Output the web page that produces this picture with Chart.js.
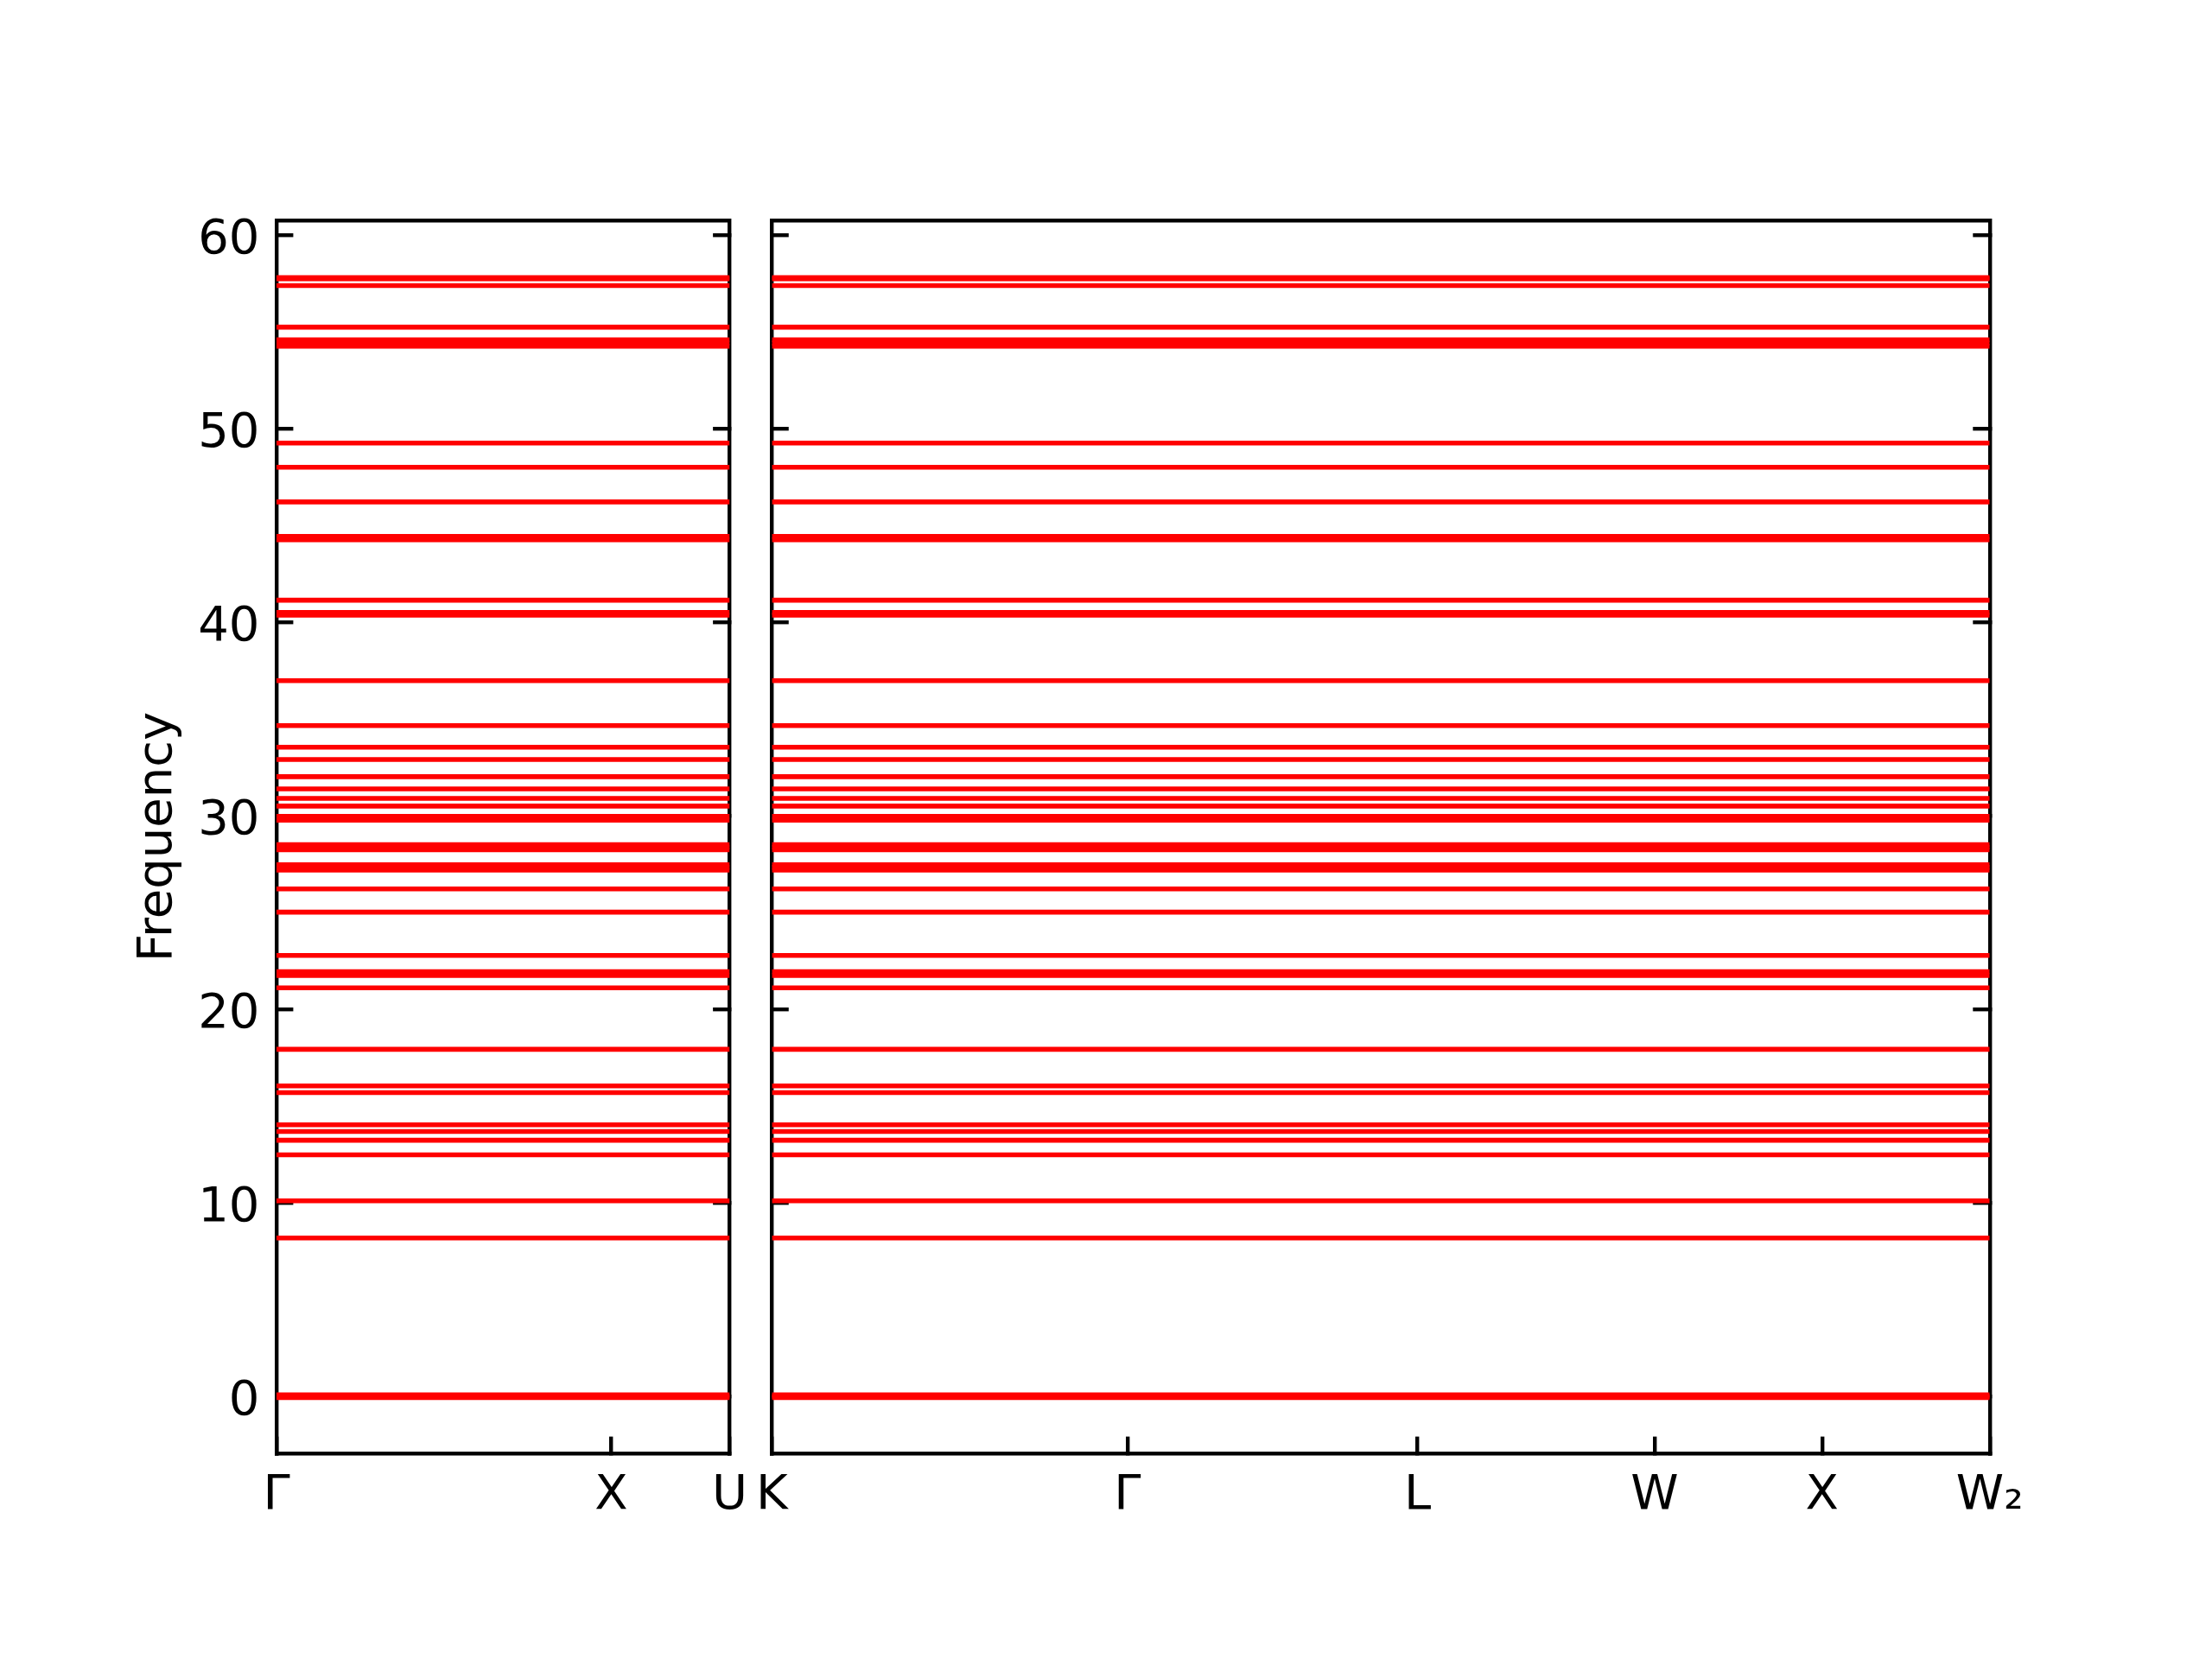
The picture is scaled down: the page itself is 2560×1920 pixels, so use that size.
<!DOCTYPE html>
<html>
<head>
<meta charset="utf-8">
<script src="https://cdn.jsdelivr.net/npm/chart.js@4/dist/chart.umd.min.js"></script>
<style>
  body { margin: 0; background: #fff; }
  #wrap { position: relative; width: 2560px; height: 1920px; background: #fff; }
  canvas { position: absolute; top: 0; }
</style>
</head>
<body>
<div id="wrap">
  <canvas id="kiri" width="900" height="1920" style="left:0px"></canvas>
  <canvas id="kanan" width="1720" height="1920" style="left:840px"></canvas>
</div>
<script>
// frekuensi tiap pita (datar di sepanjang jalur)
const frekuensi = [57.83, 57.77, 57.42, 55.27, 54.62, 54.45, 54.28, 49.28, 48.03, 46.24,
    44.46, 44.28, 41.16, 40.53, 40.38, 37.00, 34.68, 33.56, 32.93, 32.04, 31.41, 30.92,
    30.52, 29.99, 29.79, 28.53, 28.39, 28.26, 27.49, 27.35, 27.21, 26.24, 25.04, 22.80,
    21.96, 21.76, 21.13, 17.95, 16.06, 15.71, 14.05, 13.70, 13.25, 12.50, 10.12, 8.20,
    0.09, 0.02, -0.05];

// posisi titik simetri (jarak jalur) dan labelnya
const posKiri = [0, 1, 1.3536];
const labelKiri = ["Γ", "X", "U"];
const posKanan = [0, 1.0607, 1.9267, 2.6338, 3.1338, 3.6338];
const labelKanan = ["K", "Γ", "L", "W", "X", "W₂"];

const yMin = -2.93;
const yMax = 60.79;
const yStep = 10;

Chart.defaults.font.family = "'DejaVu Sans', sans-serif";
Chart.defaults.font.size = 56;
Chart.defaults.color = "#000";

const garis = 4.4;

function buatDataset(xAkhir) {
    return frekuensi.map(f => ({
        data: [{ x: 0, y: f }, { x: xAkhir, y: f }],
        borderColor: "#ff0000",
        borderWidth: 5.56,
        pointRadius: 0,
        fill: false
    }));
}

function sumbuY(posisi, tampilLabel, lebar) {
    return {
        type: "linear",
        position: posisi,
        min: yMin,
        max: yMax,
        ticks: {
            stepSize: yStep,
            includeBounds: false,
            display: tampilLabel,
            padding: 39,
            labelOffset: 6
        },
        grid: { drawOnChartArea: false, drawTicks: true, tickLength: -19.4, color: "#000", lineWidth: garis },
        border: { display: true, color: "#000", width: garis },
        afterFit: (s) => { s.width = lebar; }
    };
}

function buatGrafik(id, pos, label, padding, lebarKiri, judul) {
    let ctx = document.getElementById(id).getContext("2d");
    let xAkhir = pos[pos.length - 1];
    let sumbuKiri = sumbuY("left", judul, lebarKiri);
    if (judul) {
        sumbuKiri.title = { display: true, text: "Frequency", font: { size: 56 }, padding: { top: 20, bottom: 0 } };
    }
    new Chart(ctx, {
        type: "line",
        data: { datasets: buatDataset(xAkhir) },
        options: {
            responsive: false,
            animation: false,
            devicePixelRatio: 1,
            layout: { padding: padding },
            plugins: { legend: { display: false }, tooltip: { enabled: false } },
            scales: {
                x: {
                    type: "linear",
                    position: "bottom",
                    min: 0,
                    max: xAkhir,
                    afterBuildTicks: (s) => { s.ticks = pos.map(v => ({ value: v })); },
                    ticks: {
                        autoSkip: false,
                        maxRotation: 0,
                        minRotation: 0,
                        padding: 35,
                        callback: (v, i) => label[i]
                    },
                    grid: { drawOnChartArea: false, drawTicks: true, tickLength: -19.4, color: "#000", lineWidth: garis },
                    border: { display: true, color: "#000", width: garis },
                    afterFit: (s) => { s.height = 120; }
                },
                xAtas: {
                    type: "linear",
                    position: "top",
                    ticks: { display: false },
                    grid: { drawOnChartArea: false, drawTicks: false },
                    border: { display: true, color: "#000", width: garis },
                    afterFit: (s) => { s.height = 0; }
                },
                y: sumbuKiri,
                yKanan: sumbuY("right", false, 10)
            }
        }
    });
}

// panel kiri: area 320..846.6, panel kanan: area 891..2302.7 (atas 255, bawah 1682)
buatGrafik("kiri", posKiri, labelKiri, { left: 130, top: 255, right: 43.4, bottom: 118 }, 190, true);
buatGrafik("kanan", posKanan, labelKanan, { left: 41, top: 255, right: 247.3, bottom: 118 }, 10, false);
</script>
</body>
</html>
